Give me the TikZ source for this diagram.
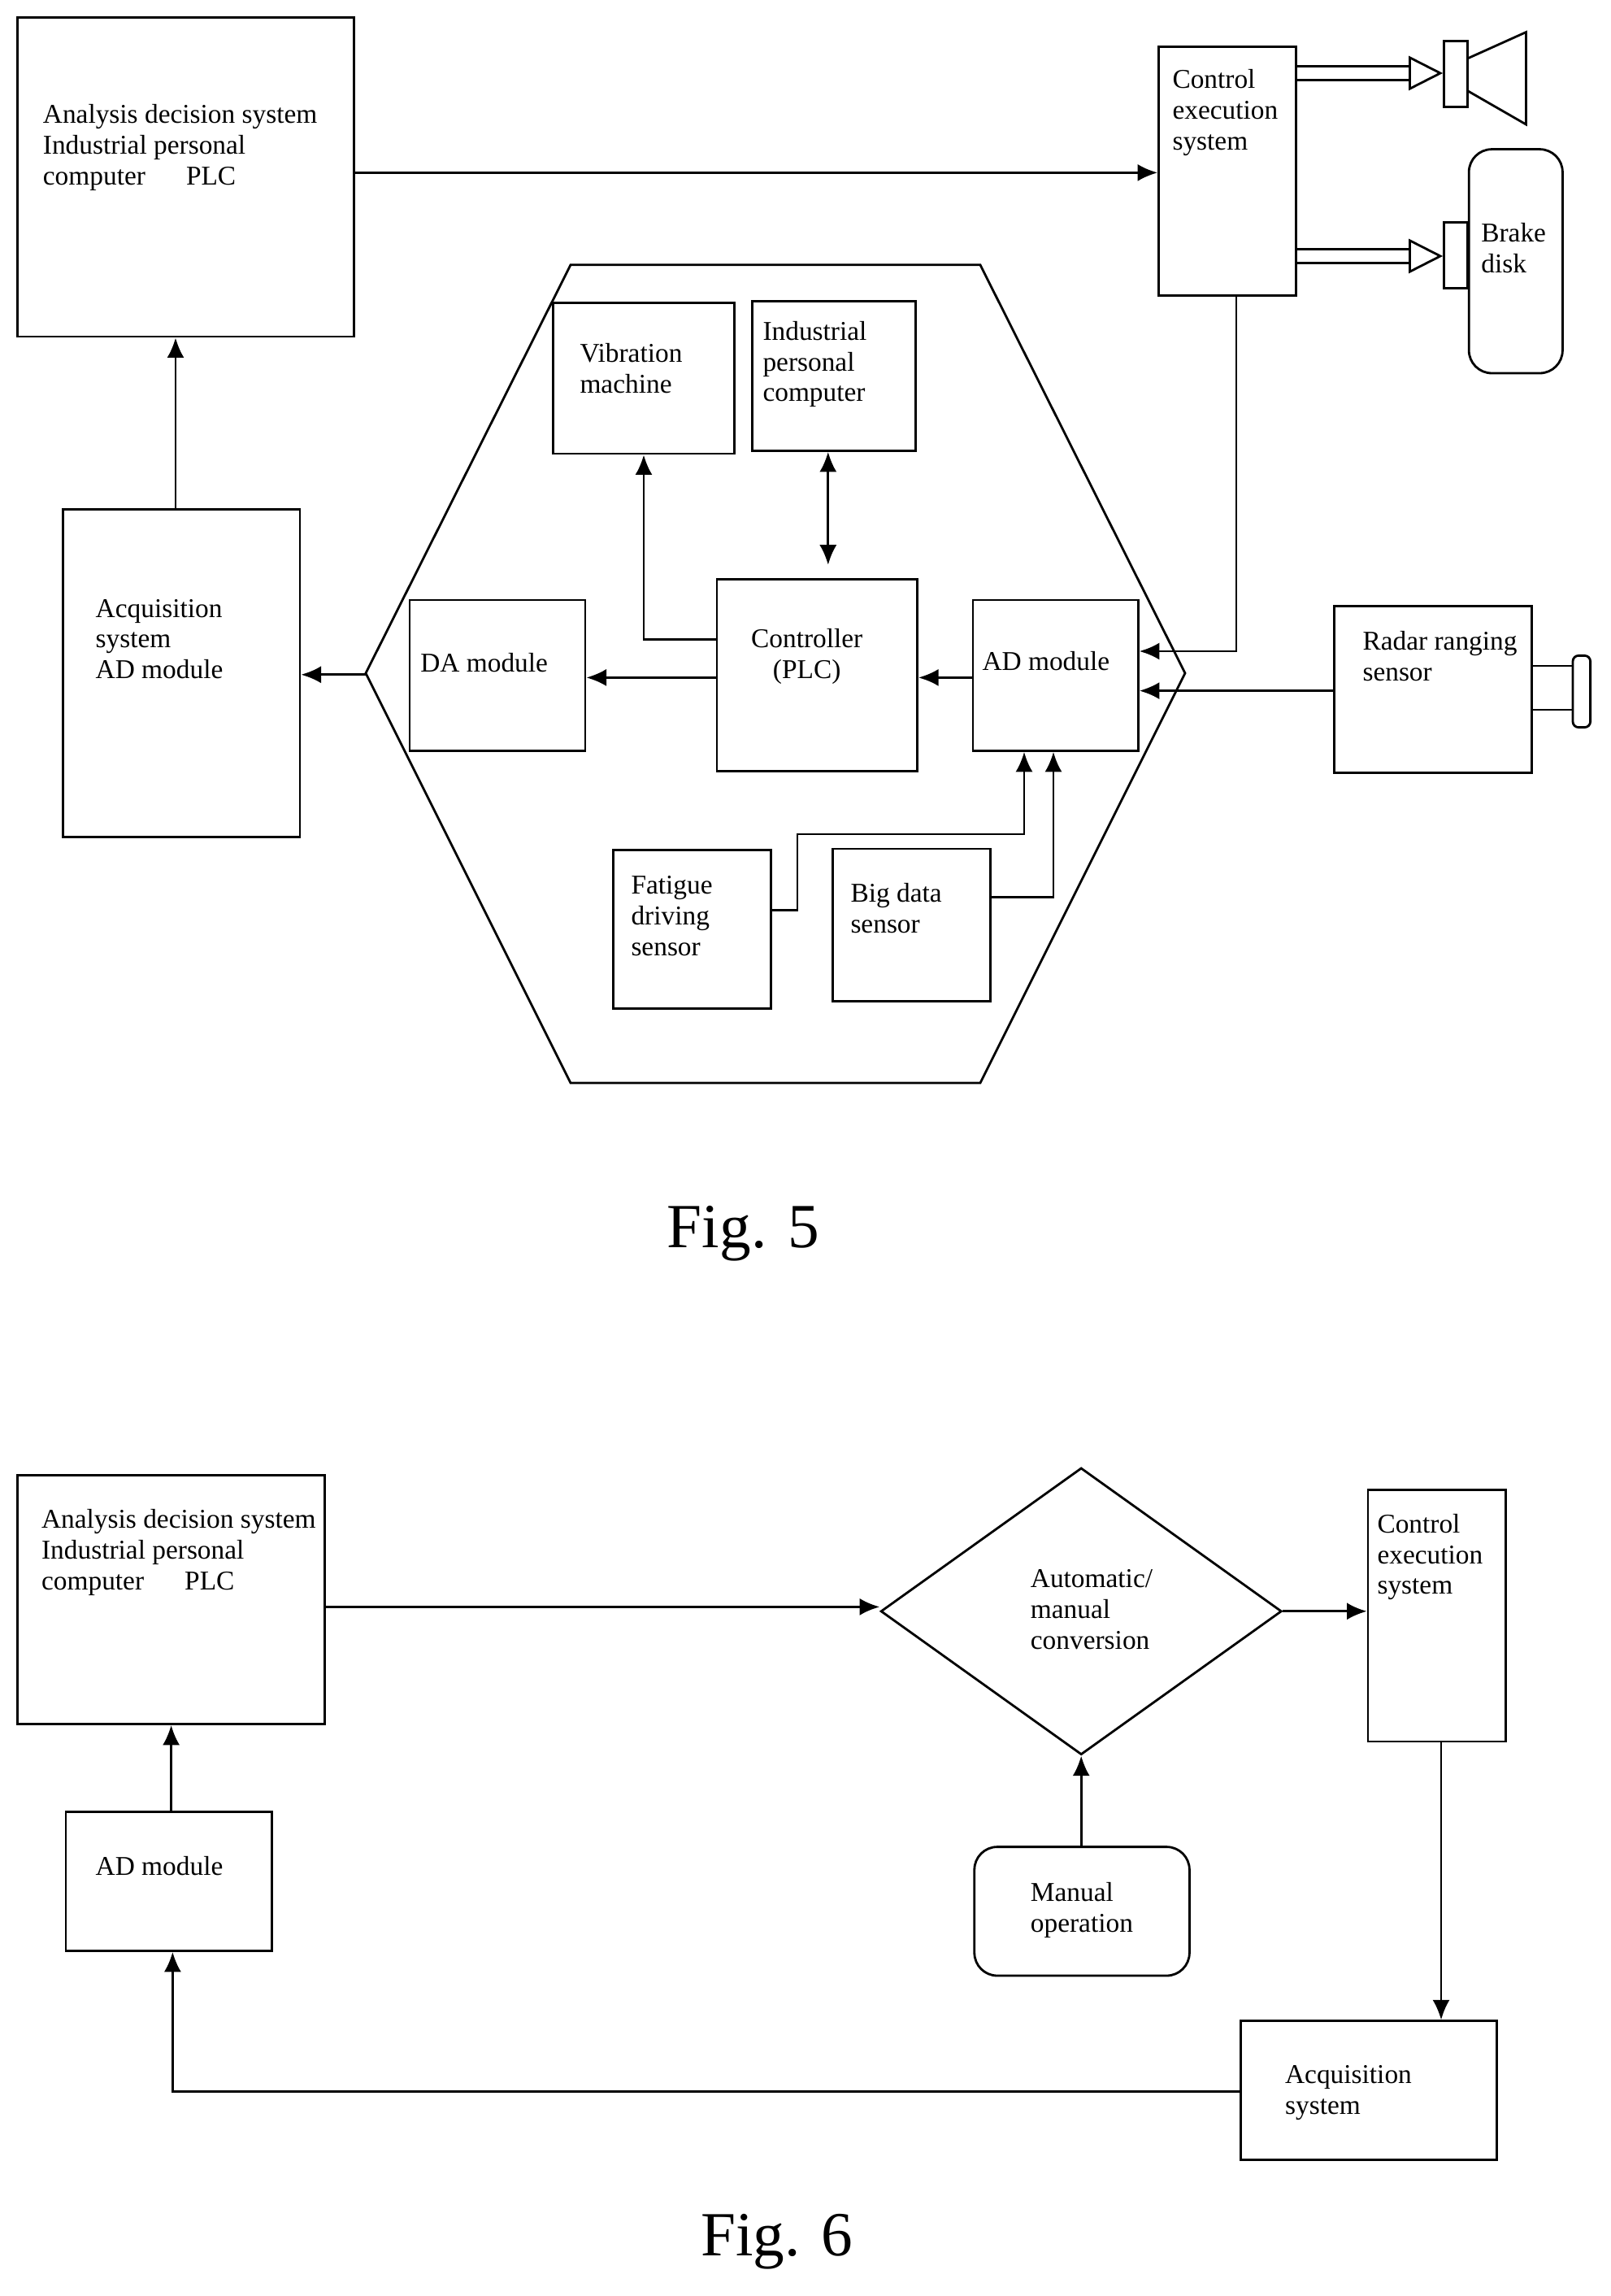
\documentclass[tikz,border=0pt]{standalone}
\usepackage{fontspec}
\setmainfont{Liberation Serif}
\usetikzlibrary{arrows.meta,fit,positioning,shapes.geometric}
\tikzset{
  >={Latex[length=7,width=6]},
  box/.style={draw, thick, rectangle, inner sep=0pt},
  txt/.style={anchor=north west, align=left, inner sep=0pt, font=\fontsize{9.5}{10.8}\selectfont},
  arrow/.style={->, thick},
  hollow/.style={thick, double, double distance=4pt, -{Triangle[open,length=12,width=12]}}
}
\begin{document}
\begin{tikzpicture}[x=0.018cm, y=-0.018cm]
\useasboundingbox (0,0) rectangle (1101.1,1568.9);

% Fig. 5 -- the boxes
\node[box, fit={(12,12) (242,230)}] (ads) {};
\node[txt] (adsT) at (29,71) {Analysis decision system\\Industrial personal\\computer\quad\ \ PLC};
\node[box, fit={(792,32) (886,202)}] (ces) {};
\node[txt] (cesT) at (801,47) {Control\\execution\\system};
\node[box, fit={(987,28) (1003,73)}] (horn) {};
\draw[thick] (1003,40) -- (1043,22) -- (1043,85) -- (1003,62);
\node[box, fit={(987,152) (1003,197)}] (brakeA) {};
\node[box, rounded corners=8pt, fit={(1004,102) (1068,255)}] (brake) {};
\node[txt] (brakeT) at (1012,152) {Brake\\disk};

\draw[thick] (390,181) -- (670,181) -- (810,460) -- (670,740) -- (390,740) -- (250,460) -- cycle;
\coordinate (hexL) at (250,461);

\node[box, fit={(378,207) (502,310)}] (vib) {};
\node[txt] (vibT) at (396,234) {Vibration\\machine};
\node[box, fit={(514,206) (626,308)}] (ipc) {};
\node[txt] (ipcT) at (521,219) {Industrial\\personal\\computer};
\node[box, fit={(490,396) (627,527)}] (plc) {};
\node[txt, align=center] (plcT) at (513,429) {Controller\\(PLC)};
\node[box, fit={(280,410) (400,513)}] (da) {};
\node[txt] (daT) at (287,446) {DA module};
\node[box, fit={(665,410) (778,513)}] (ad) {};
\node[txt] (adT) at (671,445) {AD module};
\node[box, fit={(419,581) (527,689)}] (fat) {};
\node[txt] (fatT) at (431,598) {Fatigue\\ driving\\sensor};
\node[box, fit={(569,580) (677,684)}] (big) {};
\node[txt] (bigT) at (581,603) {Big data\\sensor};
\node[box, fit={(43,348) (205,572)}] (acq) {};
\node[txt] (acqT) at (65,409) {Acquisition\\system\\AD module};
\node[box, fit={(912,414) (1047,528)}] (radar) {};
\node[txt] (radarT) at (931,431) {Radar ranging\\sensor};
\node[box, fit={(1047,455) (1075,485)}] (lensA) {};
\node[box, rounded corners=2pt, fit={(1075,448) (1087,497)}] (lensB) {};

\node[font=\fontsize{22}{26}\selectfont] (fig5) at (508,843) {Fig. 5};

% Fig. 5 -- the connections
\draw[arrow] (ads.east |- 0,118) -- (ces.west |- 0,118);
\draw[hollow] (ces.east |- 0,50) -- (horn.west |- 0,50);
\draw[hollow] (ces.east |- 0,175) -- (brakeA.west |- 0,175);
\draw[arrow] (acq.north -| 120,0) -- (ads.south -| 120,0);
\draw[arrow] (hexL) -- (acq.east |- hexL);
\draw[arrow] (plc.west |- 0,463) -- (da.east |- 0,463);
\draw[arrow] (ad.west |- 0,463) -- (plc.east |- 0,463);
\draw[arrow] (plc.west |- 0,437) -- (440,437) -- (vib.south -| 440,0);
\draw[thick, <->] (ipc.south -| 566,0) -- (566,386);
\draw[arrow] (ces.south -| 845,0) -- (845,445) -- (ad.east |- 0,445);
\draw[arrow] (radar.west |- 0,472) -- (ad.east |- 0,472);
\draw[arrow] (fat.east |- 0,622) -- (545,622) -- (545,570) -- (700,570) -- (ad.south -| 700,0);
\draw[arrow] (big.east |- 0,613) -- (720,613) -- (ad.south -| 720,0);

% Fig. 6 -- the boxes
\node[box, fit={(12,1008) (222,1178)}] (ads6) {};
\node[txt] (ads6T) at (28,1031) {Analysis decision system\\Industrial personal\\computer\quad\ \ PLC};
\node[draw, thick, diamond, minimum width=274*0.018cm, minimum height=196*0.018cm, inner sep=0pt] (conv) at (739,1101) {};
\node[txt] (convT) at (704,1072) {Automatic/\\manual\\conversion};
\node[box, fit={(935,1018) (1029,1190)}] (ces6) {};
\node[txt] (ces6T) at (941,1034) {Control\\execution\\system};
\node[box, rounded corners=8pt, fit={(666,1262) (813,1350)}] (man) {};
\node[txt] (manT) at (704,1286) {Manual\\operation};
\node[box, fit={(45,1238) (186,1333)}] (ad6) {};
\node[txt] (ad6T) at (65,1268) {AD module};
\node[box, fit={(848,1381) (1023,1476)}] (acq6) {};
\node[txt] (acq6T) at (878,1411) {Acquisition\\system};

\node[font=\fontsize{22}{26}\selectfont] (fig6) at (531,1532) {Fig. 6};

% Fig. 6 -- the connections
\draw[arrow] (ads6.east |- 0,1098) -- (conv.west |- 0,1098);
\draw[arrow] (conv.east) -- (ces6.west |- conv.east);
\draw[arrow] (man.north -| conv.south) -- (conv.south);
\draw[arrow] (ces6.south -| 985,0) -- (acq6.north -| 985,0);
\draw[arrow] (acq6.west |- 0,1429) -- (118,1429) -- (ad6.south -| 118,0);
\draw[arrow] (ad6.north -| 117,0) -- (ads6.south -| 117,0);
\end{tikzpicture}
\end{document}
